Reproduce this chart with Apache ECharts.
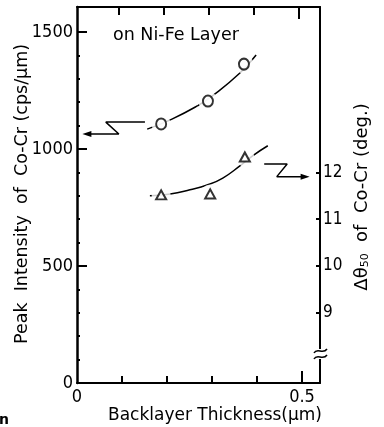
<!DOCTYPE html>
<html><head><meta charset="utf-8">
<script src="https://cdn.jsdelivr.net/npm/echarts@6/dist/echarts.min.js"></script>
<style>html,body{margin:0;padding:0;background:#fff}#c{width:384px;height:427px}</style>
</head><body><div id="c"></div>
<script>
// ---- data ----
const circlePoints = [[0.187,1107],[0.291,1205],[0.371,1363]];
const circleFit = [[0.156,1085],[0.211,1128],[0.267,1184],[0.300,1226],[0.362,1325],[0.398,1402]];
const trianglePoints = [[0.187,11.52],[0.296,11.54],[0.373,12.33]];
const triangleFit = [[0.162,11.50],[0.207,11.54],[0.251,11.63],[0.289,11.73],[0.324,11.88],[0.362,12.14],[0.391,12.36],[0.424,12.57]];
const leftArrow = [[0.151,1115],[0.064,1115],[0.093,1064],[0.022,1064]];
const rightArrow = [[0.416,12.18],[0.467,12.18],[0.444,11.91],[0.507,11.91]];
const xTickValues = [0.1,0.2,0.3,0.4,0.5];
const xLabelValues = [0,0.5];
const yLabelValues = [0,500,1000,1500];
const yMajorTicks = [500,1000,1500];
const yMinorTicks = [100,200,300,400,600,700,800,900,1100,1200,1300,1400];
const y2Values = [9,10,11,12];
const breakValue = 8.12;

const FONT = "'Liberation Sans Narrow','DejaVu Sans Condensed','Liberation Sans',sans-serif";
const TFONT = "'DejaVu Sans',sans-serif";
const chart = echarts.init(document.getElementById('c'), null, {renderer:'canvas'});
const black = '#000';
const Y_MAX = 1607, Y2_MIN = 7.5, Y2_MAX = 7.5 + 1607/200;

function arrowData(arr, rot){
  return arr.map((p,i)=> i===arr.length-1
    ? {value:p, symbol:'triangle', symbolSize:[6,9], symbolRotate:rot, itemStyle:{color:black}}
    : {value:p, symbol:'none'});
}

chart.setOption({
  animation:false,
  backgroundColor:'#fff',
  grid:{left:77, right:64, top:7, bottom:44},
  xAxis:[
    {type:'value', position:'bottom', min:0, max:0.54,
     axisLine:{onZero:false,lineStyle:{color:black,width:2}},
     axisTick:{show:false},
     axisLabel:{customValues:xLabelValues,formatter:v=>v===0?'0':'0.5',color:black,fontSize:18,fontFamily:FONT,margin:5},
     splitLine:{show:false}},
    {type:'value', position:'top', min:0, max:0.54,
     axisLine:{onZero:false,lineStyle:{color:black,width:2}},
     axisTick:{show:false},
     axisLabel:{show:false}, splitLine:{show:false}}
  ],
  yAxis:[
    {type:'value', position:'left', min:0, max:Y_MAX,
     axisLine:{show:true,onZero:false,lineStyle:{color:black,width:2.5}},
     axisTick:{inside:true,length:3,customValues:yMinorTicks,lineStyle:{color:black,width:2}},
     axisLabel:{customValues:yLabelValues,formatter:v=>String(v),color:black,fontSize:18,fontFamily:FONT,margin:4},
     splitLine:{show:false}},
    {type:'value', position:'right', min:Y2_MIN, max:Y2_MAX,
     axisLine:{show:true,onZero:false,lineStyle:{color:black,width:2}},
     axisTick:{inside:true,length:4,customValues:y2Values,lineStyle:{color:black,width:2}},
     axisLabel:{customValues:y2Values,color:black,fontSize:17,fontFamily:FONT,margin:3},
     splitLine:{show:false}}
  ],
  series:[
    {type:'line', xAxisIndex:0, yAxisIndex:0, data:circleFit, smooth:true, symbol:'none', z:2,
     lineStyle:{color:black,width:1.5}},
    {type:'line', xAxisIndex:0, yAxisIndex:1, data:triangleFit, smooth:true, symbol:'none', z:2,
     lineStyle:{color:black,width:1.5}},
    {type:'scatter', xAxisIndex:0, yAxisIndex:0, data:circlePoints, symbol:'circle', symbolSize:19, z:3,
     itemStyle:{color:'#fff'}},
    {type:'scatter', xAxisIndex:0, yAxisIndex:1, data:trianglePoints, symbol:'circle', symbolSize:19, z:3,
     itemStyle:{color:'#fff'}},
    {type:'scatter', xAxisIndex:0, yAxisIndex:0, data:circlePoints, symbol:'circle', symbolSize:[10,11], z:4,
     itemStyle:{color:'#fff',borderColor:black,borderWidth:2}},
    {type:'scatter', xAxisIndex:0, yAxisIndex:1, data:trianglePoints, symbol:'triangle', symbolSize:[10,9], z:4,
     itemStyle:{color:'#fff',borderColor:black,borderWidth:2}},
    {type:'line', xAxisIndex:0, yAxisIndex:0, data:arrowData(leftArrow,90), z:5,
     lineStyle:{color:black,width:1.5}},
    {type:'line', xAxisIndex:0, yAxisIndex:1, data:arrowData(rightArrow,-90), z:5,
     lineStyle:{color:black,width:1.5}}
  ]
});

// major ticks on left axis, x ticks, axis break on the right axis, and texts
const ax = chart.convertToPixel({xAxisIndex:0}, 0);
const bx = chart.convertToPixel({xAxisIndex:0}, 0.54);
const by = chart.convertToPixel({yAxisIndex:1}, breakValue);
const yBottom = chart.convertToPixel({yAxisIndex:0}, 0);
const yTop = chart.convertToPixel({yAxisIndex:0}, Y_MAX);
const g = yMajorTicks.map(v=>{
  const py = Math.round(chart.convertToPixel({yAxisIndex:0}, v));
  return {type:'line', shape:{x1:ax, y1:py, x2:ax+10, y2:py}, style:{stroke:black,lineWidth:2}, z:100};
});
xTickValues.forEach(v=>{
  const px = Math.round(chart.convertToPixel({xAxisIndex:0}, v));
  g.push({type:'line', shape:{x1:px, y1:yBottom, x2:px, y2:yBottom-(v===0.5?12:7)}, style:{stroke:black,lineWidth:2}, z:100});
  g.push({type:'line', shape:{x1:px-3, y1:yTop, x2:px-3, y2:yTop+(v===0.5?12:8)}, style:{stroke:black,lineWidth:2}, z:100});
});
g.push(
  {type:'rect', shape:{x:bx-3,y:by-5,width:6,height:10}, style:{fill:'#fff'}, z:100},
  {type:'bezierCurve', shape:{x1:bx-6,y1:by-1,cpx1:bx-3,cpy1:by-7,cpx2:bx+3,cpy2:by+1,x2:bx+7,y2:by-5}, style:{stroke:black,lineWidth:1.5,fill:null}, z:101},
  {type:'bezierCurve', shape:{x1:bx-6,y1:by+5,cpx1:bx-3,cpy1:by-1,cpx2:bx+3,cpy2:by+7,x2:bx+7,y2:by+1}, style:{stroke:black,lineWidth:1.5,fill:null}, z:101},
  {type:'text', x:113, y:35, style:{text:'on Ni-Fe Layer', font:"17.5px "+TFONT, fill:black, textVerticalAlign:'middle'}, z:100},
  {type:'text', x:215, y:416, style:{text:'Backlayer Thickness(μm)', font:"17px "+TFONT, fill:black, textAlign:'center', textVerticalAlign:'middle'}, z:100},
  {type:'text', x:22, y:194, rotation:Math.PI/2, style:{text:'Peak  Intensity  of  Co-Cr (cps/μm)', font:"17.5px "+TFONT, fill:black, textAlign:'center', textVerticalAlign:'middle'}, z:100},
  {type:'text', x:362, y:197, rotation:Math.PI/2, style:{
     text:'{a|Δθ}{s|50}{a|  of  Co-Cr (deg.)}',
     rich:{a:{fontSize:18, fontFamily:TFONT, color:black},
           s:{fontSize:11, fontFamily:TFONT, color:black, padding:[6,0,0,0]}},
     textAlign:'center', textVerticalAlign:'middle'}, z:100},
  {type:'text', x:-1, y:420, style:{text:'n', font:"bold 14px "+TFONT, fill:black, textVerticalAlign:'middle'}, z:100}
);
chart.setOption({graphic:g});
</script></body></html>
